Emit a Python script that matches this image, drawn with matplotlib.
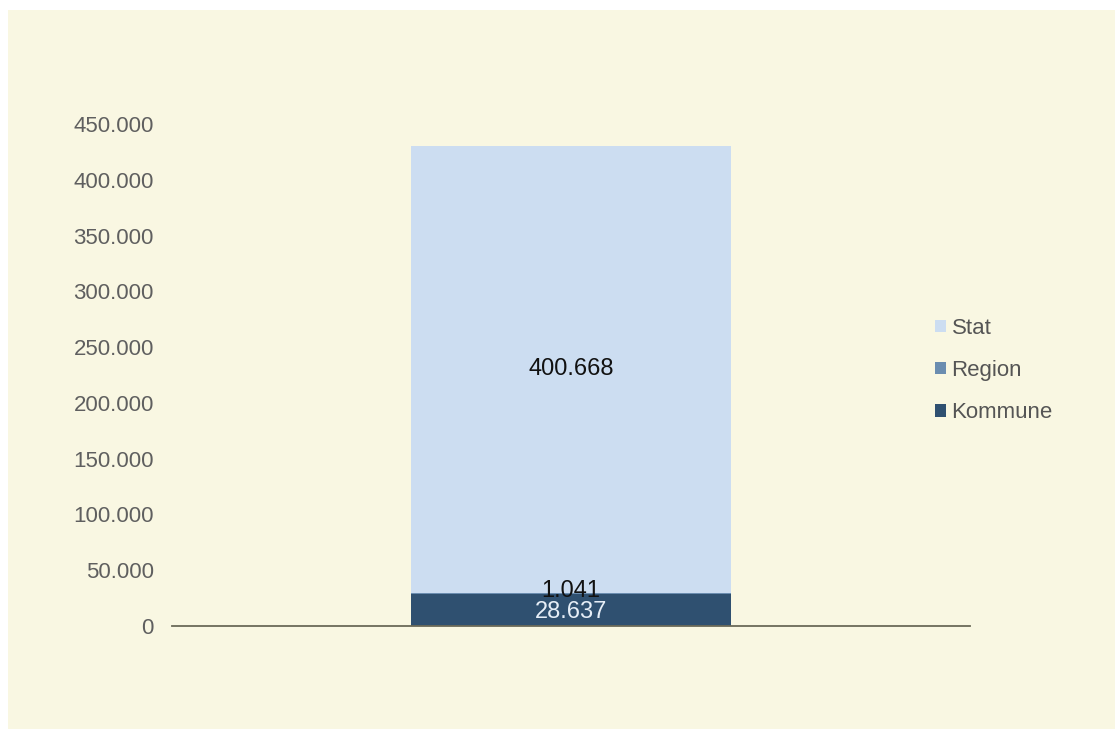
import matplotlib.pyplot as plt
from matplotlib.patches import Rectangle
from matplotlib.ticker import FuncFormatter

plt.rcParams["font.family"] = ["Liberation Sans", "DejaVu Sans"]

# stacked from bottom to top
series = ["Kommune", "Region", "Stat"]
values = [28637, 1041, 400668]
colors = ["#2f5070", "#6b8db0", "#ccddf1"]
label_colors = ["#e6eef7", "#111111", "#111111"]
yticks = [0, 50000, 100000, 150000, 200000, 250000, 300000, 350000, 400000, 450000]


def dotted(v, _pos=None):
    return f"{int(round(v)):,}".replace(",", ".")


def main() -> None:
    fig = plt.figure(figsize=(11.15, 7.29), dpi=100, facecolor="white")
    fig.patches.append(
        Rectangle((8 / 1115, 0), 1, 1 - 10 / 729, transform=fig.transFigure,
                  facecolor="#f9f7e2", edgecolor="none", zorder=-10)
    )
    ax = fig.add_axes([172 / 1115, 1 - 626 / 729, 798 / 1115, (626 - 124) / 729])
    ax.set_facecolor("none")
    ax.set_zorder(5)

    bottom = 0
    handles = []
    for name, val, col, lcol in zip(series, values, colors, label_colors):
        bar = ax.bar(0, val, width=0.4, bottom=bottom, color=col, label=name)
        handles.append(bar)
        mid = bottom + val / 2
        if name == "Region":
            mid = bottom + 2500
        elif name == "Kommune":
            mid = bottom + val / 2 - 1500
        ax.text(0, mid, dotted(val), ha="center", va="center", fontsize=17, color=lcol)
        bottom += val

    ax.set_xlim(-0.5, 0.5)
    ax.set_ylim(0, 450000)
    ax.set_yticks(yticks)
    ax.yaxis.set_major_formatter(FuncFormatter(dotted))
    ax.set_xticks([])
    for side in ["top", "right", "left"]:
        ax.spines[side].set_visible(False)
    ax.spines["bottom"].set_color("#6b6a58")
    ax.spines["bottom"].set_linewidth(1.3)
    ax.tick_params(axis="y", length=0, pad=13, labelsize=16, labelcolor="#5f5f5f")

    leg = ax.legend(
        handles[::-1], series[::-1], loc="center left", bbox_to_anchor=(0.931, 0.509),
        frameon=False, fontsize=16, handlelength=0.5, handleheight=0.5,
        handletextpad=0.25, labelspacing=0.95,
    )
    for t in leg.get_texts():
        t.set_color("#555555")

    fig.savefig("out.png", dpi=100, facecolor=fig.get_facecolor())
    plt.close(fig)


if __name__ == "__main__":
    main()
